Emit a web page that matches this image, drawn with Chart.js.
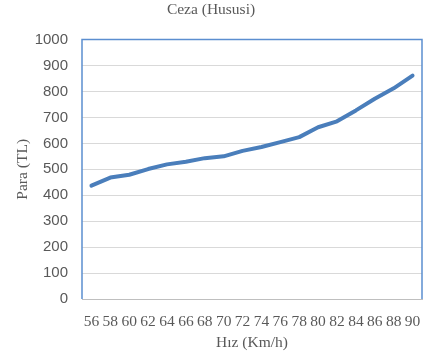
<!DOCTYPE html>
<html>
<head>
<meta charset="utf-8">
<script src="https://cdn.jsdelivr.net/npm/chart.js@4"></script>
<style>
  html, body { margin: 0; padding: 0; background: #fff; }
  #wrap { width: 425px; height: 363px; }
</style>
</head>
<body>
<div id="wrap"><canvas id="cezaChart" width="425" height="363"></canvas></div>
<script>
var speeds = ['56', '58', '60', '62', '64', '66', '68', '70', '72', '74', '76', '78', '80', '82', '84', '86', '88', '90'];
var fines = [437, 468, 479, 501, 519, 529, 543, 550, 571, 586, 605, 624, 662, 685, 727, 772, 812, 861];
var yMin = 0, yMax = 1000, yStep = 100;

var serif = "'Liberation Serif', 'Times New Roman', serif";
var sans = "'Liberation Sans', Arial, sans-serif";
var grey = '#595959';

// blue frame round the plot area (left, top, right), like the Excel original
var frame = {
    id: 'frame',
    afterDatasetsDraw: function(chart) {
        var a = chart.chartArea, c = chart.ctx;
        c.save();
        c.strokeStyle = '#5B8ED0';
        c.lineWidth = 1.5;
        c.beginPath();
        c.moveTo(a.left, a.bottom);
        c.lineTo(a.left, a.top);
        c.lineTo(a.right, a.top);
        c.lineTo(a.right, a.bottom);
        c.stroke();
        c.restore();
    }
};

new Chart(document.getElementById('cezaChart'), {
    type: 'line',
    data: {
        labels: speeds,
        datasets: [{
            label: 'Ceza',
            data: fines,
            borderColor: '#4A7EBB',
            borderWidth: 4,
            borderCapStyle: 'round',
            borderJoinStyle: 'round',
            pointRadius: 0,
            tension: 0,
            fill: false
        }]
    },
    options: {
        responsive: false,
        animation: false,
        layout: { padding: { left: 0, right: 3, top: 0, bottom: 0 } },
        plugins: {
            legend: { display: false },
            tooltip: { enabled: false },
            title: {
                display: true,
                text: 'Ceza (Hususi)',
                color: grey,
                font: { family: serif, size: 15.5, weight: 'normal' },
                padding: { top: 1, bottom: 20 }
            }
        },
        scales: {
            x: {
                offset: true,
                grid: { display: false, drawTicks: false },
                border: { display: true, color: '#BFBFBF', width: 1 },
                ticks: {
                    color: grey, font: { family: serif, size: 15.5 },
                    autoSkip: false, maxRotation: 0, minRotation: 0, padding: 14
                },
                title: {
                    display: true, text: 'Hız (Km/h)', color: grey,
                    font: { family: serif, size: 15.5 },
                    padding: { top: 0, bottom: 11 }
                },
                afterFit: function(s) {
                    s.height = 64;
                    s.paddingLeft = 0;
                    s.paddingRight = 0;
                }
            },
            y: {
                min: yMin, max: yMax,
                grid: { color: '#D9D9D9', lineWidth: 1, drawTicks: false },
                border: { display: false },
                ticks: {
                    stepSize: yStep, color: grey,
                    font: { family: sans, size: 15 }, padding: 14,
                    callback: function(v) { return String(v); }
                },
                title: {
                    display: true, text: 'Para (TL)', color: grey,
                    font: { family: serif, size: 15.5 },
                    padding: { top: 14, bottom: 0 }
                },
                afterFit: function(s) { s.width = 82; }
            }
        }
    },
    plugins: [frame]
});
</script>
</body>
</html>
